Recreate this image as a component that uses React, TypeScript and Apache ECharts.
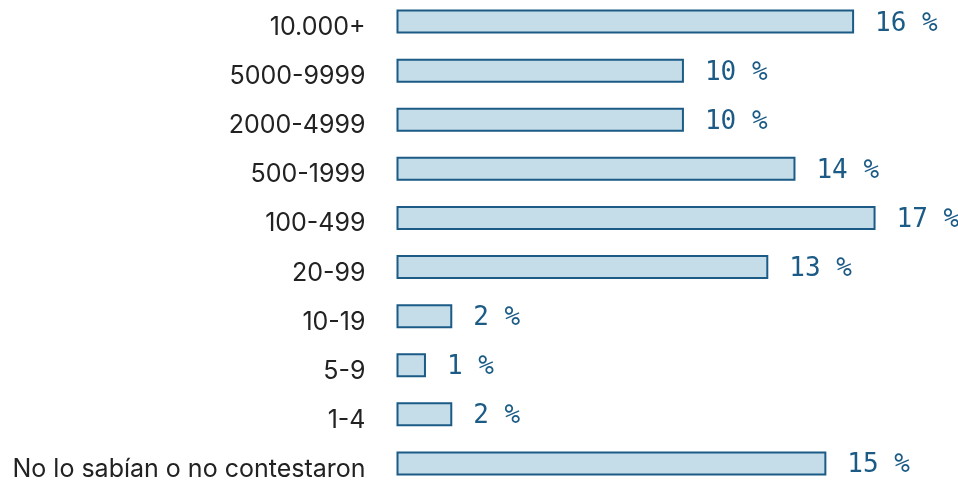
import React, { useEffect, useRef } from "react";
import * as echarts from "echarts";

const categories = [
  "10.000+",
  "5000-9999",
  "2000-4999",
  "500-1999",
  "100-499",
  "20-99",
  "10-19",
  "5-9",
  "1-4",
  "No lo sabían o no contestaron",
];
const values = [16.0, 10.05, 10.05, 13.95, 16.75, 13.0, 1.95, 1.03, 1.95, 15.03];

export default function App() {
  const ref = useRef<HTMLDivElement>(null);
  useEffect(() => {
    if (!ref.current) return;
    const chart = echarts.init(ref.current, undefined, { renderer: "svg" });
    chart.setOption({
      animation: false,
      grid: {
        left: 396.5,
        top: -3,
        width: 572,
        height: 491,
        containLabel: false,
        outerBoundsMode: "none",
      },
      xAxis: {
        type: "value",
        min: 0,
        max: 20,
        show: false,
      },
      yAxis: {
        type: "category",
        data: categories,
        inverse: true,
        axisLine: { show: false },
        axisTick: { show: false },
        splitLine: { show: false },
        axisLabel: {
          margin: 31,
          formatter: (v: string) => `{c|${v}}`,
          rich: {
            c: {
              color: "#222222",
              fontFamily: "Inter",
              fontSize: 25,
              lineHeight: 20,
              padding: [9, 0, 0, 0],
            },
          },
        },
      },
      series: [
        {
          type: "bar",
          data: values,
          barWidth: 24,
          itemStyle: {
            color: "#c5dde9",
            borderColor: "#1b5b86",
            borderWidth: 2,
          },
          label: {
            show: true,
            position: "right",
            distance: 21,
            color: "#1b5b86",
            fontFamily: "DejaVu Sans Mono",
            fontSize: 26,
            formatter: (p: any) => `${Math.round(p.value)} %`,
          },
        },
      ],
    });
    return () => chart.dispose();
  }, []);
  return <div ref={ref} style={{ width: 958, height: 481, position: "fixed", left: 0, top: 0 }} />;
}
